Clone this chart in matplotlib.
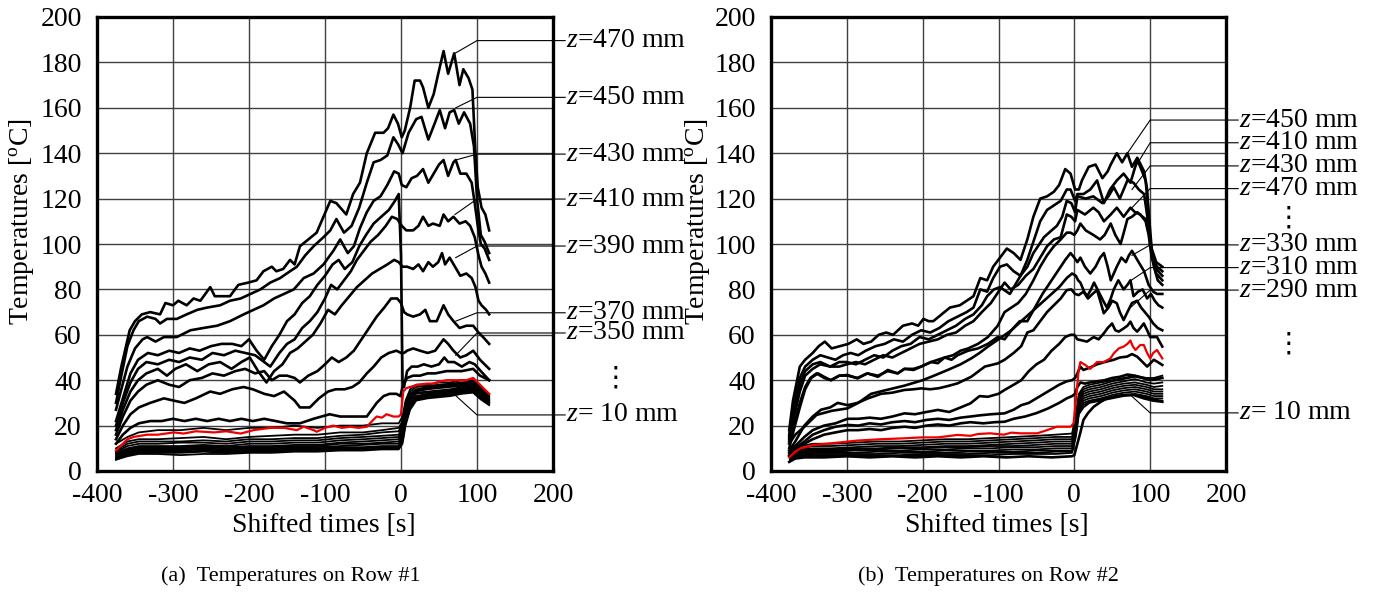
import matplotlib
matplotlib.use("Agg")
import matplotlib.pyplot as plt

plt.rcParams['font.family'] = ['Liberation Serif', 'DejaVu Sans']
plt.rcParams['mathtext.fontset'] = 'custom'
plt.rcParams['mathtext.rm'] = 'Liberation Serif'
plt.rcParams['mathtext.it'] = 'Liberation Serif:italic'
plt.rcParams['axes.unicode_minus'] = False

XTICKS = [-400, -300, -200, -100, 0, 100, 200]
YTICKS = list(range(0, 201, 20))

# ---------------- Panel (a): Row #1 ----------------
a470 = [(-375,34),(-368,46),(-357,62),(-350,66),(-341,69),(-330,70),(-317,69),(-310,74),(-300,73),(-293,75),(-282,73),(-273,76),(-264,75),(-251,81),(-245,77),(-234,77),(-225,77),(-214,82),(-201,83),(-190,84),(-181,88),(-170,90),(-164,88),(-155,89),(-146,93),(-140,91),(-133,99),(-122,102),(-111,105),(-102,112),(-93,119),(-85,118),(-72,113),(-63,122),(-54,127),(-45,140),(-34,149),(-23,149),(-17,151),(-10,157),(-4,153),(1,147),(5,150),(12,160),(18,172),(25,172),(29,169),(36,160),(43,166),(49,175),(56,185),(62,175),(70,184),(77,170),(82,177),(89,173),(94,168),(98,140),(101,125),(106,116),(111,113),(116,106)]
a450 = [(-375,30),(-368,42),(-360,55),(-352,62),(-345,66),(-334,68),(-323,67),(-317,65),(-308,67),(-295,67),(-282,69),(-268,71),(-255,72),(-238,73),(-225,75),(-211,76),(-198,78),(-185,80),(-172,83),(-159,85),(-146,88),(-137,90),(-126,95),(-115,99),(-102,103),(-93,106),(-85,111),(-75,105),(-65,108),(-55,116),(-45,127),(-36,136),(-27,137),(-18,139),(-10,147),(-4,144),(2,140),(10,149),(20,155),(27,156),(36,146),(43,152),(51,159),(58,151),(64,158),(70,159),(76,153),(83,158),(91,153),(96,143),(100,120),(105,104),(110,101),(116,96)]
a430 = [(-375,27),(-368,36),(-360,46),(-350,54),(-340,58),(-334,59),(-323,57),(-312,59),(-295,59),(-277,62),(-260,63),(-242,64),(-225,66),(-207,69),(-194,71),(-181,73),(-167,76),(-154,78),(-141,80),(-128,85),(-115,87),(-102,91),(-89,97),(-80,102),(-70,96),(-62,99),(-54,107),(-45,114),(-36,119),(-27,121),(-18,126),(-9,132),(-3,131),(1,126),(7,125),(14,129),(21,130),(29,133),(36,127),(43,131),(50,135),(56,137),(62,130),(69,136),(72,137),(78,131),(86,131),(93,127),(97,118),(101,108),(105,100),(110,98),(116,93)]
a_drop = [(-375,22),(-366,32),(-356,43),(-346,49),(-333,52),(-320,51),(-305,53),(-292,52),(-278,54),(-265,53),(-250,55),(-236,56),(-222,56),(-210,55),(-200,58),(-190,53),(-180,49),(-170,55),(-160,60),(-150,66),(-140,69),(-130,74),(-120,77),(-110,82),(-100,86),(-90,91),(-82,93),(-74,89),(-64,92),(-55,99),(-46,104),(-36,109),(-26,112),(-16,115),(-8,119),(-3,122),(0,95),(2,40),(4,37),(8,44),(14,46),(22,46),(30,47),(40,46),(50,47),(57,50),(62,48),(70,48),(80,46),(90,48),(97,47),(105,44),(116,40)]
a410 = [(-375,20),(-366,30),(-356,39),(-346,45),(-335,48),(-320,47),(-305,49),(-292,48),(-278,50),(-262,49),(-248,52),(-233,51),(-218,53),(-205,52),(-192,51),(-180,48),(-172,46),(-160,52),(-150,56),(-140,58),(-130,63),(-120,66),(-110,70),(-100,76),(-92,82),(-84,80),(-75,84),(-66,88),(-58,93),(-49,97),(-40,101),(-30,104),(-20,108),(-12,112),(-5,111),(1,108),(7,106),(16,106),(23,108),(29,112),(36,108),(42,109),(51,108),(56,113),(62,110),(69,112),(77,109),(85,110),(91,108),(97,103),(102,95),(106,90),(111,87),(116,83)]
a390 = [(-375,18),(-366,27),(-356,35),(-346,40),(-335,43),(-320,45),(-308,42),(-297,45),(-283,47),(-268,44),(-253,47),(-238,48),(-223,45),(-210,48),(-199,50),(-188,44),(-177,39),(-167,44),(-156,47),(-146,52),(-136,54),(-126,57),(-116,60),(-106,65),(-96,71),(-87,69),(-78,73),(-68,77),(-58,81),(-48,84),(-38,87),(-28,89),(-18,91),(-9,93),(-3,92),(2,90),(8,90),(16,89),(23,91),(29,88),(36,92),(42,90),(49,92),(54,96),(58,91),(64,94),(71,90),(78,86),(86,87),(93,85),(98,81),(102,75),(106,73),(112,71),(116,69)]
a370 = [(-375,16),(-366,24),(-356,31),(-346,35),(-335,38),(-320,40),(-305,38),(-292,37),(-278,40),(-262,41),(-248,43),(-233,42),(-218,44),(-205,45),(-192,43),(-180,44),(-170,40),(-160,42),(-150,42),(-140,41),(-133,39),(-122,42),(-110,44),(-100,47),(-91,50),(-82,48),(-72,50),(-62,53),(-52,58),(-42,63),(-32,68),(-22,72),(-13,76),(-5,76),(0,74),(4,70),(8,69),(16,68),(25,69),(32,71),(38,66),(47,66),(56,73),(62,69),(69,66),(77,63),(86,64),(95,64),(102,61),(108,59),(116,56)]
a350 = [(-375,14),(-366,20),(-356,25),(-345,28),(-330,30),(-312,32),(-299,31),(-285,30),(-270,32),(-251,35),(-238,34),(-222,36),(-207,37),(-195,36),(-180,34),(-167,33),(-154,35),(-140,31),(-133,28),(-120,28),(-108,32),(-96,35),(-86,36),(-74,36),(-64,37),(-55,39),(-45,43),(-36,46),(-26,50),(-16,52),(-6,53),(0,52),(4,52),(8,53),(16,54),(25,53),(35,52),(45,53),(56,58),(62,56),(69,53),(78,50),(86,51),(95,53),(104,49),(116,45)]
a_l9 = [(-375,12),(-366,16),(-356,19),(-345,21),(-330,22),(-315,22),(-300,23),(-285,22),(-270,23),(-255,22),(-240,23),(-225,22),(-210,23),(-195,22),(-180,23),(-165,22),(-150,21),(-133,21),(-115,23),(-94,25),(-80,24),(-63,24),(-45,24),(-32,30),(-23,33),(-15,34),(-6,34),(-1,33),(3,38),(8,41),(16,42),(25,42),(35,43),(45,43),(60,44),(70,44),(80,44),(95,45),(104,42),(116,40)]
a_red = [(-375,9),(-360,14),(-352,15),(-334,16),(-320,16),(-299,17),(-286,16.5),(-270,17.5),(-246,17),(-230,17.5),(-211,16.5),(-194,18),(-172,19),(-154,19),(-137,18),(-128,19.5),(-115,18),(-111,17.3),(-100,19),(-89,20),(-78,19),(-67,19.5),(-56,19),(-45,19.5),(-38,22),(-32,24),(-25,23.5),(-19,25),(-10,24),(-3,24),(0,25),(3,35),(7,36.5),(12,37),(21,38),(34,38.5),(42,38.5),(51,39.4),(60,40),(73,40),(86,40),(95,41),(104,38),(113,35),(116,34)]

# bundle of the lower thermocouples (Row #1), common time grid
a_grid = [-375,-360,-345,-320,-290,-260,-230,-200,-170,-140,-110,-80,-50,-25,-3,2,6,12,20,35,50,65,80,95,105,116]
a_b01 = [12,15,17,18,18,19,18,19,19,20,19,20,20,21,21,24,31,36,38,38,39,39,40,40,37,34]
a_b02 = [10,13,14,14,14.5,15,14,15,15.5,16,16,17,17,18,19,22,30,35,37,37.5,38,38.5,39,39.5,36.5,33.5]
a_b03 = [9,12,13,13,13,13.5,13,14,14,14.5,14.5,15.5,16,17,17.5,21,29,34,36,37,37.5,38,38.5,39,36,33]
a_b04 = [8.5,11,12,12,12.5,12.5,12,13,13,13.5,13.5,14.5,15,15.5,16,20,28,33.5,35.5,36.5,37,37.5,38,38.5,35.5,32.5]
a_b05 = [8,10,11,11,11,11.5,11,12,12,12.5,12.5,13.5,14,14.5,15,19,27,33,35,36,36.5,37,37.5,38,35,32]
a_b06 = [7.5,9.5,10.5,10.5,10.5,11,10.5,11,11,11.5,11.5,12.5,13,13.5,14,18,26,32,34.5,35,35.5,36,37,37.5,34.5,31.5]
a_b07 = [7,9,10,10,10,10.5,10,10.5,10.5,11,11,12,12,12.5,13,17,25,31,34,34.5,35,35.5,36.5,37,34,31]
a_b08 = [6.5,8.5,9.5,9.5,9.5,10,9.5,10,10,10.5,10.5,11,11.5,12,12,16,24,30,33,34,34.5,35,36,36.5,33.5,30.5]
a_b09 = [6,8,9,9,9,9.5,9,9.5,9.5,10,10,10.5,10.5,11,11,15,23,29.5,32.5,33.5,34,34.5,35.5,36,33,30]
a_b10 = [5.5,7.5,8.5,8.5,8.5,9,8.5,9,9,9.5,9.5,10,10,10.5,10.5,14,22,29,32,33,33.5,34,35,35.5,32.5,30]
a_b11 = [5,7,8,8,8,8.5,8,8.5,8.5,9,9,9.5,9.5,10,10,13,21,28,31.5,32.5,33,33.5,34.5,35,32,29.5]
a_b12 = [5,6.5,7.5,7.5,7,7.5,7.5,8,8,8.5,8.5,9,9,9.5,9.5,12,20,27,31,32,32.5,33,34,34.5,31.5,29]

a_label_names = ["470", "450", "430", "410", "390", "370", "350", " 10"]
a_label_T = [189.6, 164.6, 139.6, 119.8, 99.1, 69.7, 60.8, 24.7]
a_target_t = [71, 72, 72, 71, 72, 72, 72, 71]
a_target_T = [184, 160, 137, 113, 94, 66, 51, 33.5]

# ---------------- Panel (b): Row #2 ----------------
b450 = [(-376,18),(-371,31),(-362,46),(-355,49),(-345,52),(-337,55),(-329,57),(-320,54),(-309,55),(-298,56),(-287,58),(-278,56),(-268,57),(-258,60),(-248,61),(-239,60),(-226,64),(-214,65),(-206,64),(-199,67),(-192,66),(-186,66),(-175,69),(-164,72),(-151,73),(-142,75),(-133,77),(-124,85),(-115,84),(-107,90),(-98,94),(-89,98),(-80,96),(-71,93),(-62,102),(-54,112),(-45,120),(-36,121),(-27,123),(-20,126),(-12,133),(-5,131),(1,124),(6,124),(10,128),(19,134),(28,135),(37,129),(44,132),(48,135),(56,140),(63,136),(70,140),(76,134),(83,138),(92,132),(96,124),(100,100),(104,93),(109,90),(116,88)]
b410 = [(-376,16),(-371,27),(-362,41),(-355,46),(-345,49),(-335,51),(-325,50),(-315,49),(-305,51),(-295,52),(-285,51),(-275,53),(-262,55),(-250,56),(-238,58),(-226,57),(-214,60),(-202,62),(-190,61),(-178,63),(-166,66),(-154,68),(-142,70),(-133,72),(-124,80),(-115,79),(-107,85),(-98,90),(-89,91),(-80,88),(-71,86),(-62,93),(-54,101),(-45,110),(-36,115),(-27,117),(-18,119),(-10,124),(-5,124),(1,119),(4,122),(12,122),(21,124),(30,128),(39,118),(47,124),(56,128),(65,131),(74,127),(83,137),(87,134),(94,128),(98,114),(102,98),(108,92),(116,90)]
b430 = [(-376,15),(-371,25),(-362,38),(-355,44),(-345,47),(-335,48),(-322,46),(-310,48),(-300,48),(-288,47),(-276,49),(-264,51),(-252,50),(-240,53),(-228,55),(-216,56),(-204,59),(-192,58),(-180,60),(-168,62),(-156,64),(-144,67),(-133,69),(-122,73),(-115,77),(-106,80),(-98,81),(-85,78),(-71,86),(-62,90),(-54,96),(-40,103),(-30,106),(-23,108),(-16,112),(-10,119),(-4,118),(1,114),(4,121),(15,120),(25,121),(37,118),(45,121),(52,125),(60,120),(70,128),(78,127),(85,124),(92,122),(98,108),(102,96),(108,89),(116,86)]
b470 = [(-376,14),(-371,22),(-362,35),(-355,42),(-345,45),(-335,47),(-322,46),(-310,46),(-300,47),(-288,48),(-276,47),(-264,49),(-252,51),(-240,50),(-228,52),(-216,54),(-204,56),(-192,57),(-180,58),(-168,60),(-156,61),(-144,64),(-133,66),(-122,70),(-110,74),(-100,79),(-92,83),(-84,80),(-74,82),(-64,86),(-54,89),(-45,94),(-36,99),(-27,102),(-18,103),(-10,113),(-4,112),(1,110),(4,115),(14,113),(25,116),(32,114),(39,110),(48,113),(56,116),(65,112),(74,116),(80,114),(87,113),(94,110),(98,104),(102,94),(108,87),(116,84)]
b_l5 = [(-376,13),(-370,20),(-362,30),(-355,37),(-348,41),(-340,43),(-330,41),(-321,40),(-310,42),(-299,42),(-286,41),(-273,43),(-259,42),(-246,44),(-233,43),(-224,45),(-212,45),(-202,46),(-189,48),(-180,49),(-171,50),(-160,51),(-150,53),(-140,54),(-127,56),(-114,59),(-101,64),(-92,70),(-83,72),(-74,74),(-64,78),(-54,84),(-45,90),(-36,95),(-27,99),(-18,102),(-10,105),(-5,105),(0,104),(4,106),(8,109),(15,106),(25,104),(34,102),(40,104),(48,109),(54,104),(61,100),(66,106),(70,111),(76,112),(83,114),(90,112),(94,111),(100,102),(105,90),(110,84),(116,82)]
b330 = [(-376,10),(-370,18),(-362,28),(-355,36),(-347,41),(-338,43),(-330,41.5),(-321,40),(-310,42),(-299,42.3),(-286,40.8),(-273,43),(-259,41.5),(-246,44.5),(-233,43),(-224,45),(-212,44.5),(-202,46),(-189,48),(-180,47.5),(-171,50),(-162,49),(-154,51),(-140,53),(-127,54),(-114,56),(-101,59),(-92,58),(-83,62),(-72,66),(-62,66),(-52,72),(-42,78),(-32,83),(-22,88),(-12,93),(-5,96),(0,94),(4,92),(8,94),(14,90),(21,87),(28,90),(34,94),(39,96),(44,90),(48,84),(56,90),(62,94),(68,92),(72,95),(76,97),(83,93),(92,88),(98,82),(104,79),(109,78),(116,78)]
b310 = [(-376,12),(-368,16),(-356,19.5),(-340,24.7),(-320,26.5),(-299,27.6),(-285,30),(-268,34),(-250,35.5),(-224,37.6),(-200,40),(-185,42),(-167,44.5),(-150,47),(-136,49.6),(-125,52),(-114,54.8),(-100,58),(-83,62),(-70,66),(-60,69),(-50,72),(-40,75),(-30,78),(-20,81),(-10,85),(-3,87),(2,86),(5,84),(8,83),(13,79),(17,77),(22,80),(26,83),(32,79),(38,75),(43,72),(48,76),(52,80),(58,84),(65,80),(70,82),(74,84),(78,77),(84,79),(90,80),(96,76),(101,78),(106,75),(111,73),(116,72)]
b290 = [(-376,9),(-368,13),(-356,20),(-345,24),(-334,27),(-322,28),(-312,30),(-299,29),(-286,30),(-272,32),(-255,34),(-240,34.5),(-224,35.7),(-212,36),(-202,36.4),(-190,36),(-178,36.5),(-166,37.5),(-154,38.6),(-136,41.5),(-118,46),(-101,47.4),(-92,49),(-80,52),(-70,55),(-62,61),(-54,62),(-45,66),(-36,70),(-27,73),(-18,76),(-10,79.7),(-4,80),(1,78),(5.7,77.5),(12,79),(18,76),(24,78),(30,79.7),(35,74),(38.8,69.5),(45,72),(50,75),(56,73.9),(60,70),(65,66.5),(70,70),(76,74),(82.8,75),(88,72),(93,70),(98,68),(104,65),(110,63),(116,62)]
b_l9 = [(-376,8),(-368,11),(-356,15),(-345,18),(-330,20),(-315,21),(-299,23),(-285,23),(-270,23.5),(-255,23),(-240,24),(-224,25.4),(-210,25),(-195,26),(-180,26.9),(-165,26),(-150,28),(-137,29.8),(-125,33),(-114,32.7),(-100,34),(-92,35.7),(-80,38),(-70,40),(-60,44),(-50,47),(-40,49),(-30,53),(-20,56),(-12,59),(-5,60),(0,60),(4,58),(8,57.7),(16.7,57),(25.5,59),(32,58),(38.8,60.6),(44,63),(49.8,65),(54,62),(58.6,61.4),(65,62.8),(70,64),(74,65.8),(78,63),(82.8,61.4),(87,63),(91.6,65),(96,62),(100,59),(109,59),(116,54.8)]
b_l10 = [(-376,7),(-368,10),(-356,13),(-345,16),(-330,18),(-315,19.5),(-299,20.3),(-285,20),(-270,21),(-255,20.5),(-240,21.5),(-224,22),(-210,21.5),(-195,22.5),(-180,23),(-165,22.5),(-150,23.5),(-137,24),(-125,24.5),(-110,25),(-92,25.4),(-80,27),(-70,29),(-60,30),(-50,32),(-40,34),(-30,36),(-20,38),(-10,39.5),(-3,40),(1,41),(4,43),(8,46),(12,44.5),(20,45.5),(30,47),(40,48),(52,49),(60,50),(69.6,50.4),(76,51.5),(82.8,50.4),(90,48),(96,46),(104.8,49),(110,48),(116,46.7)]
b_l11 = [(-376,6.5),(-368,9),(-356,12),(-345,14),(-330,16),(-315,17),(-299,18),(-285,18),(-270,18.5),(-255,18),(-240,19),(-224,19.5),(-210,19),(-195,20),(-180,20.5),(-165,20),(-150,21),(-137,21.5),(-120,21),(-105,21.5),(-92,21.7),(-80,23),(-65,24),(-50,25.5),(-35,27.5),(-20,30),(-10,32),(-3,33),(1,34),(4,37),(8,39),(14,38.5),(20,39),(30,39.5),(40,40),(50,41),(60,41.5),(70,42.5),(80,42),(90,41),(100,40),(108,40.5),(116,41)]
b_red = [(-376,6),(-368,8.5),(-361,10),(-343,11.5),(-312,12.5),(-286,13.4),(-255,14),(-224,14.4),(-202,14.8),(-180,14.8),(-154,15.9),(-137,15.5),(-127,16.3),(-111,16.6),(-93,16),(-83,16.9),(-71,16.6),(-49,16.6),(-36,18),(-23,19.5),(-5,19.5),(-1,21),(2.6,33),(5.7,44.5),(8,48),(14.5,46.7),(21,45),(30,48),(38.8,48),(47.6,49.6),(52,51.8),(58.6,54),(65,54.8),(70,56),(74,57.5),(77,55),(80.6,53.3),(87,55.5),(91.6,55.5),(96,52),(100,49.6),(104,52),(109,53.3),(116,49.6)]
b_z10 = [(-376,4),(-368,5.5),(-356,6),(-330,6),(-300,6.5),(-270,6),(-240,6.5),(-210,6),(-180,6.5),(-150,6),(-120,6.5),(-90,6),(-60,6.5),(-30,6),(-3,6.5),(0,7),(4,12),(8,17),(12,22.5),(18,25.5),(25.5,28.3),(35,30.5),(43,32),(55,33),(65,33.5),(78,33.5),(91.6,32),(104,31),(116,30.5)]

b_grid = [-375,-360,-345,-320,-290,-260,-230,-200,-170,-140,-110,-80,-50,-25,-3,2,6,12,20,35,50,65,80,95,105,116]
b_b01 = [9,11,12,12,12.5,13,13,13.5,14,14,14.5,15,15.5,16,16.5,25,34,37,38,39,40,41,42,41,41,42]
b_b02 = [8.5,10,11,11,11.5,12,12,12.5,13,13,13.5,14,14.5,15,15,24,33,36,37,38,39.5,40.5,41.5,40.5,40,41]
b_b03 = [8,9.5,10,10,10.5,11,11,11.5,12,12,12.5,13,13.5,14,14,22,32,35,36,37,38.5,39.5,40.5,39,38.5,39]
b_b04 = [7.5,9,9.5,9.5,10,10,10.5,10.5,11,11,11.5,12,12.5,13,13,21,31,34,35,36,37.5,38.5,39,38,37,37.5]
b_b05 = [7,8.5,9,9,9.5,9.5,10,10,10.5,10.5,11,11,11.5,12,12,20,30,33,34,35,36.5,37.5,38,37,36,36]
b_b06 = [6.5,8,8.5,8.5,9,9,9,9.5,9.5,10,10,10.5,10.5,11,11,19,29,32,33,34,35.5,36.5,37,36,35,35]
b_b07 = [6,7.5,8,8,8,8.5,8.5,8.5,9,9,9,9.5,9.5,10,10,18,28,31,32,33,34.5,35.5,36,35,34,34]
b_b08 = [5.5,7,7.5,7.5,7.5,7.5,8,8,8,8.5,8.5,8.5,9,9,9,17,27,30,31,32,33.5,34.5,35,34,33,33]
b_b09 = [5,6.5,7,7,7,7,7,7.5,7.5,7.5,8,8,8,8.5,8.5,16,26,29,30.5,31.5,32.5,33.5,34,33,32,32]
b_b10 = [5,6,6.5,6.5,6.5,6.5,6.5,7,7,7,7,7.5,7.5,7.5,8,15,25,28,30,31,32,33,33.5,32.5,31.5,31]

b_label_names = ["450", "410", "430", "470", "330", "310", "290", " 10"]
b_label_T = [154.6, 144.6, 134.4, 124.4, 99.6, 89.6, 79.7, 25.6]
b_target_t = [70, 78, 76, 76, 76, 75, 74, 74]
b_target_T = [140, 132.6, 124, 116, 95, 84, 72, 33.5]

# ---------------- figure ----------------
W, H = 1381, 594
fig = plt.figure(figsize=(W / 100, H / 100), dpi=100)
axA = fig.add_axes([97 / W, 1 - 471 / H, 456 / W, 454 / H])
axB = fig.add_axes([771 / W, 1 - 471 / H, 455 / W, 454 / H])


def style(ax):
    ax.set_xlim(-400, 200)
    ax.set_ylim(0, 200)
    ax.set_xticks(XTICKS)
    ax.set_yticks(YTICKS)
    ax.grid(True, color='#404040', lw=1.0)
    ax.set_axisbelow(True)
    ax.tick_params(length=0, labelsize=20)
    ax.tick_params(axis='x', pad=9)
    ax.tick_params(axis='y', pad=11)
    for s in ax.spines.values():
        s.set_linewidth(2.4)
        s.set_zorder(10)


def pl(ax, pts, color='black', lw=1.9, z=3):
    ts = [p[0] for p in pts]
    vs = [p[1] for p in pts]
    ax.plot(ts, vs, color=color, lw=lw, zorder=z, solid_joinstyle='round')


def labels(ax, names, lab_T, tgt_t, tgt_T):
    for n, lt, tt, tT in zip(names, lab_T, tgt_t, tgt_T):
        ax.plot([tt, 100, 216], [tT, lt, lt], color='black', lw=0.8,
                clip_on=False, zorder=6)
        ax.text(217, lt, r"$z$=" + n + " mm", fontsize=20, ha='left',
                va='center', clip_on=False)


def vdots(ax, t, T):
    ax.text(t, T, "\u22ee", fontsize=20, ha='center', va='center',
            clip_on=False, family=['DejaVu Sans'])


style(axA)
style(axB)

for ys in [a_b01, a_b02, a_b03, a_b04, a_b05, a_b06, a_b07, a_b08, a_b09, a_b10, a_b11, a_b12]:
    axA.plot(a_grid, ys, color='black', lw=1.3, zorder=2)
for pts in [a470, a450, a430, a_drop, a410, a390, a370, a350, a_l9]:
    pl(axA, pts)
pl(axA, a_red, color='#ee0000', lw=1.6, z=4)
labels(axA, a_label_names, a_label_T, a_target_t, a_target_T)
vdots(axA, 282.5, 41)

for ys in [b_b01, b_b02, b_b03, b_b04, b_b05, b_b06, b_b07, b_b08, b_b09, b_b10]:
    axB.plot(b_grid, ys, color='black', lw=1.3, zorder=2)
for pts in [b450, b410, b430, b470, b_l5, b330, b310, b290, b_l9, b_l10, b_l11, b_z10]:
    pl(axB, pts)
pl(axB, b_red, color='#ee0000', lw=1.6, z=4)
labels(axB, b_label_names, b_label_T, b_target_t, b_target_T)
vdots(axB, 282.7, 111.5)
vdots(axB, 282.7, 56)

ylab = r"Temperatures [$^{\mathrm{o}}$C]"
fig.text(22 / W, 1 - 222 / H, ylab, rotation=90, fontsize=20, ha='center', va='center')
fig.text(697 / W, 1 - 222 / H, ylab, rotation=90, fontsize=20, ha='center', va='center')
fig.text(324 / W, 1 - 525 / H, "Shifted times [s]", fontsize=20, ha='center', va='center')
fig.text(997 / W, 1 - 525 / H, "Shifted times [s]", fontsize=20, ha='center', va='center')
fig.text(291 / W, 1 - 576 / H, "(a)  Temperatures on Row #1", fontsize=16, ha='center', va='center')
fig.text(988 / W, 1 - 576 / H, "(b)  Temperatures on Row #2", fontsize=16, ha='center', va='center')

fig.savefig("out.png", dpi=100)
